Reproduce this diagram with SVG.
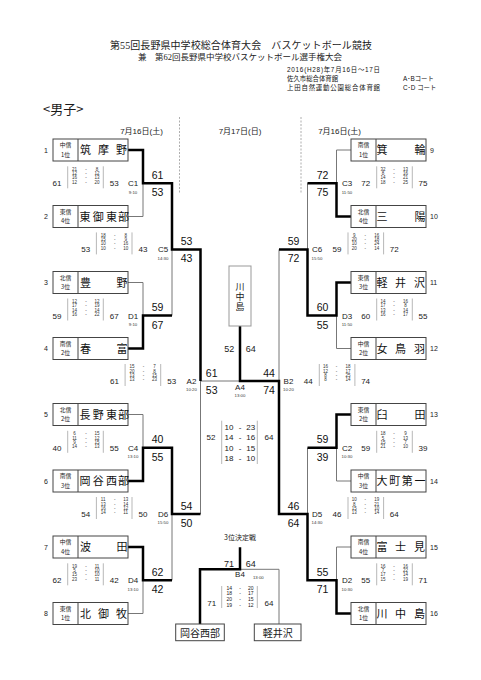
<svg xmlns="http://www.w3.org/2000/svg" width="481" height="680" viewBox="0 0 481 680">
<style>
text{font-family:"Liberation Sans","Noto Sans CJK JP",sans-serif;fill:#1a1a1a;text-anchor:middle}
.hd{font-family:"Liberation Serif","Noto Sans CJK JP",serif;text-anchor:start;fill:#222}
.sm{font-size:6.4px;text-anchor:start;fill:#111}
.box{fill:#fff;stroke:#444;stroke-width:1}
.dv{stroke:#444;stroke-width:1}
.nm{font-family:"Noto Sans CJK JP",sans-serif;font-size:11px;fill:#111}
.rg{font-family:"Noto Sans CJK JP",sans-serif;font-size:5.8px}
.no{font-size:7px}
.js{font-size:10.5px;fill:#111}
.bs{font-size:8px}
.ss{font-size:4.5px;fill:#333}
.lb{font-size:8px}
.tm{font-size:4.3px;fill:#333}
.f9{font-size:9px}
.sep{stroke:#999;stroke-width:0.7}
.th{fill:none;stroke:#000;stroke-width:2.5}
.tn{fill:none;stroke:#777;stroke-width:1}
.vc{font-family:"Noto Sans CJK JP",sans-serif;font-size:9px;writing-mode:vertical-rl;letter-spacing:1px}
</style>
<rect width="481" height="680" fill="#fff"/>

<g id="header">
<text class="hd" x="110" y="48.5" font-size="10" textLength="262">第55回長野県中学校総合体育大会　バスケットボール競技</text>
<text class="hd" x="138" y="59.5" font-size="8.5" textLength="204">兼　第62回長野県中学校バスケットボール選手権大会</text>
<text class="sm" x="287" y="71.5" textLength="93">2016(H28)年7月16日～17日</text>
<text class="sm" x="287" y="80.5">佐久市総合体育館</text>
<text class="sm" x="403" y="80.5">A･Bコート</text>
<text class="sm" x="287" y="89.7" textLength="93">上田自然運動公園総合体育館</text>
<text class="sm" x="403" y="89.7">C･D コート</text>
<text x="43" y="114" font-size="13" style="text-anchor:start;font-family:'Noto Sans CJK JP',sans-serif">&lt;男子&gt;</text>
<text x="141.5" y="133.5" font-size="8">7月16日(土)</text>
<text x="240" y="133.5" font-size="8">7月17日(日)</text>
<text x="339.5" y="133.5" font-size="8">7月16日(土)</text>
<line x1="179.5" y1="117" x2="179.5" y2="194" stroke="#999" stroke-width="0.8" stroke-dasharray="2,1.5"/>
<line x1="301" y1="117" x2="301" y2="194" stroke="#999" stroke-width="0.8" stroke-dasharray="2,1.5"/>
</g>

<g id="connectors">
<path class="tn" d="M128,216.5H143V183.25"/>
<path class="tn" d="M128,282.5H143V315.5"/>
<path class="tn" d="M172,315.5V249.4"/>
<path class="tn" d="M200.5,381V514"/>
<path class="tn" d="M200.5,381H240"/>
<path class="tn" d="M128,414.5H143V447.75"/>
<path class="tn" d="M128,613.5H143V580.25"/>
<path class="tn" d="M172,580.25V514"/>
<path class="tn" d="M351,150H336.5V183.25"/>
<path class="tn" d="M351,348.5H336.5V315.5"/>
<path class="tn" d="M307.5,183.25V249.4"/>
<path class="tn" d="M279,249.4V381"/>
<path class="tn" d="M351,481H336.5V447.75"/>
<path class="tn" d="M351,547H336.5V580.25"/>
<path class="tn" d="M307.5,447.75V514"/>
<path class="tn" d="M240,569.3H279V624"/>
<path class="th" d="M128,150H143V183.25H172V249.4H200.5V381"/>
<path class="th" d="M128,348.5H143V315.5H172"/>
<path class="th" d="M128,481H143V447.75H172V514H200.5"/>
<path class="th" d="M128,547H143V580.25H172"/>
<path class="th" d="M351,216.5H336.5V183.25H307.5"/>
<path class="th" d="M351,282.5H336.5V315.5H307.5V249.4H279"/>
<path class="th" d="M351,414.5H336.5V447.75H307.5"/>
<path class="th" d="M351,613.5H336.5V580.25H307.5V514H279V381H240V326"/>
<path class="th" d="M240,547.3V569.3H200V624"/>
</g>

<g id="team-1"><rect class="box" x="53" y="139" width="75" height="22"/><line class="dv" x1="78" y1="139" x2="78" y2="161"/><text class="rg" x="65.5" y="147.2">中信</text><text class="rg" x="65.5" y="156.5">1位</text><text class="nm" x="85.5 103.5 121.5" y="154">筑摩野</text><text class="no" x="46" y="152.5">1</text></g>
<g id="team-2"><rect class="box" x="53" y="205.5" width="75" height="22"/><line class="dv" x1="78" y1="205.5" x2="78" y2="227.5"/><text class="rg" x="65.5" y="213.7">東信</text><text class="rg" x="65.5" y="223">4位</text><text class="nm" x="85 98.2 111.5 123.5" y="220.5">東御東部</text><text class="no" x="46" y="219">2</text></g>
<g id="team-3"><rect class="box" x="53" y="271.5" width="75" height="22"/><line class="dv" x1="78" y1="271.5" x2="78" y2="293.5"/><text class="rg" x="65.5" y="279.7">北信</text><text class="rg" x="65.5" y="289">3位</text><text class="nm" x="85.5 122" y="286.5">豊野</text><text class="no" x="46" y="285">3</text></g>
<g id="team-4"><rect class="box" x="53" y="337.5" width="75" height="22"/><line class="dv" x1="78" y1="337.5" x2="78" y2="359.5"/><text class="rg" x="65.5" y="345.7">南信</text><text class="rg" x="65.5" y="355">2位</text><text class="nm" x="85.5 122" y="352.5">春富</text><text class="no" x="46" y="351">4</text></g>
<g id="team-5"><rect class="box" x="53" y="403.5" width="75" height="22"/><line class="dv" x1="78" y1="403.5" x2="78" y2="425.5"/><text class="rg" x="65.5" y="411.7">北信</text><text class="rg" x="65.5" y="421">2位</text><text class="nm" x="85 98.2 111.5 123.5" y="418.5">長野東部</text><text class="no" x="46" y="417">5</text></g>
<g id="team-6"><rect class="box" x="53" y="470" width="75" height="22"/><line class="dv" x1="78" y1="470" x2="78" y2="492"/><text class="rg" x="65.5" y="478.2">南信</text><text class="rg" x="65.5" y="487.5">3位</text><text class="nm" x="85 98.2 111.5 123.5" y="485">岡谷西部</text><text class="no" x="46" y="483.5">6</text></g>
<g id="team-7"><rect class="box" x="53" y="536" width="75" height="22"/><line class="dv" x1="78" y1="536" x2="78" y2="558"/><text class="rg" x="65.5" y="544.2">中信</text><text class="rg" x="65.5" y="553.5">4位</text><text class="nm" x="85.5 122" y="551">波田</text><text class="no" x="46" y="549.5">7</text></g>
<g id="team-8"><rect class="box" x="53" y="602.5" width="75" height="22"/><line class="dv" x1="78" y1="602.5" x2="78" y2="624.5"/><text class="rg" x="65.5" y="610.7">東信</text><text class="rg" x="65.5" y="620">1位</text><text class="nm" x="85.5 103.5 121.5" y="617.5">北御牧</text><text class="no" x="46" y="616">8</text></g>

<g id="team-9"><rect class="box" x="351" y="139" width="75" height="22"/><line class="dv" x1="376" y1="139" x2="376" y2="161"/><text class="rg" x="363.5" y="147.2">南信</text><text class="rg" x="363.5" y="156.5">1位</text><text class="nm" x="382 420" y="154">箕輪</text><text class="no" x="430" y="152.5" style="text-anchor:start">9</text></g>
<g id="team-10"><rect class="box" x="351" y="205.5" width="75" height="22"/><line class="dv" x1="376" y1="205.5" x2="376" y2="227.5"/><text class="rg" x="363.5" y="213.7">北信</text><text class="rg" x="363.5" y="223">4位</text><text class="nm" x="382 420" y="220.5">三陽</text><text class="no" x="430" y="219" style="text-anchor:start">10</text></g>
<g id="team-11"><rect class="box" x="351" y="271.5" width="75" height="22"/><line class="dv" x1="376" y1="271.5" x2="376" y2="293.5"/><text class="rg" x="363.5" y="279.7">東信</text><text class="rg" x="363.5" y="289">3位</text><text class="nm" x="382 400.5 419.5" y="286.5">軽井沢</text><text class="no" x="430" y="285" style="text-anchor:start">11</text></g>
<g id="team-12"><rect class="box" x="351" y="337.5" width="75" height="22"/><line class="dv" x1="376" y1="337.5" x2="376" y2="359.5"/><text class="rg" x="363.5" y="345.7">中信</text><text class="rg" x="363.5" y="355">2位</text><text class="nm" x="382 400.5 419.5" y="352.5">女鳥羽</text><text class="no" x="430" y="351" style="text-anchor:start">12</text></g>
<g id="team-13"><rect class="box" x="351" y="403.5" width="75" height="22"/><line class="dv" x1="376" y1="403.5" x2="376" y2="425.5"/><text class="rg" x="363.5" y="411.7">東信</text><text class="rg" x="363.5" y="421">2位</text><text class="nm" x="382 420" y="418.5">臼田</text><text class="no" x="430" y="417" style="text-anchor:start">13</text></g>
<g id="team-14"><rect class="box" x="351" y="470" width="75" height="22"/><line class="dv" x1="376" y1="470" x2="376" y2="492"/><text class="rg" x="363.5" y="478.2">中信</text><text class="rg" x="363.5" y="487.5">3位</text><text class="nm" x="382 394.7 407.3 420" y="485">大町第一</text><text class="no" x="430" y="483.5" style="text-anchor:start">14</text></g>
<g id="team-15"><rect class="box" x="351" y="536" width="75" height="22"/><line class="dv" x1="376" y1="536" x2="376" y2="558"/><text class="rg" x="363.5" y="544.2">南信</text><text class="rg" x="363.5" y="553.5">4位</text><text class="nm" x="382 400.5 419.5" y="551">富士見</text><text class="no" x="430" y="549.5" style="text-anchor:start">15</text></g>
<g id="team-16"><rect class="box" x="351" y="602.5" width="75" height="22"/><line class="dv" x1="376" y1="602.5" x2="376" y2="624.5"/><text class="rg" x="363.5" y="610.7">北信</text><text class="rg" x="363.5" y="620">1位</text><text class="nm" x="382 400.5 419.5" y="617.5">川中島</text><text class="no" x="430" y="616" style="text-anchor:start">16</text></g>

<g id="champion"><rect x="229" y="266" width="22" height="60" fill="#fff" stroke="#999" stroke-width="1"/><text class="vc" x="240" y="297">川中島</text></g>

<g id="match-C1">
<text class="bs" x="57" y="186.3">61</text><line class="sep" x1="67.7" y1="166.3" x2="67.7" y2="188.3"/>
<text class="ss" y="170.7"><tspan x="74.5">21</tspan><tspan x="86">-</tspan><tspan x="97">8</tspan></text>
<text class="ss" y="175"><tspan x="74.5">12</tspan><tspan x="86">-</tspan><tspan x="97">12</tspan></text>
<text class="ss" y="179.3"><tspan x="74.5">16</tspan><tspan x="86">-</tspan><tspan x="97">13</tspan></text>
<text class="ss" y="183.6"><tspan x="74.5">12</tspan><tspan x="86">-</tspan><tspan x="97">20</tspan></text>
<line class="sep" x1="103.3" y1="166.3" x2="103.3" y2="188.3"/><text class="bs" x="114.3" y="186.3">53</text>
<text class="lb" x="133" y="186.3">C1</text><text class="tm" x="133" y="193.6">9:10</text>
<text class="js" x="157.5" y="178.8">61</text><text class="js" x="157.5" y="196.3">53</text>
</g>
<g id="match-D1">
<text class="bs" x="57" y="318.5">59</text><line class="sep" x1="67.7" y1="298.5" x2="67.7" y2="320.5"/>
<text class="ss" y="302.9"><tspan x="74.5">12</tspan><tspan x="86">-</tspan><tspan x="97">12</tspan></text>
<text class="ss" y="307.2"><tspan x="74.5">17</tspan><tspan x="86">-</tspan><tspan x="97">19</tspan></text>
<text class="ss" y="311.5"><tspan x="74.5">14</tspan><tspan x="86">-</tspan><tspan x="97">14</tspan></text>
<text class="ss" y="315.8"><tspan x="74.5">16</tspan><tspan x="86">-</tspan><tspan x="97">22</tspan></text>
<line class="sep" x1="103.3" y1="298.5" x2="103.3" y2="320.5"/><text class="bs" x="114.3" y="318.5">67</text>
<text class="lb" x="133" y="318.5">D1</text><text class="tm" x="133" y="325.8">9:10</text>
<text class="js" x="157.5" y="311">59</text><text class="js" x="157.5" y="328.5">67</text>
</g>
<g id="match-C4">
<text class="bs" x="57" y="450.8">40</text><line class="sep" x1="67.7" y1="430.8" x2="67.7" y2="452.8"/>
<text class="ss" y="435.2"><tspan x="74.5">6</tspan><tspan x="86">-</tspan><tspan x="97">15</tspan></text>
<text class="ss" y="439.5"><tspan x="74.5">11</tspan><tspan x="86">-</tspan><tspan x="97">12</tspan></text>
<text class="ss" y="443.8"><tspan x="74.5">9</tspan><tspan x="86">-</tspan><tspan x="97">15</tspan></text>
<text class="ss" y="448.1"><tspan x="74.5">14</tspan><tspan x="86">-</tspan><tspan x="97">13</tspan></text>
<line class="sep" x1="103.3" y1="430.8" x2="103.3" y2="452.8"/><text class="bs" x="114.3" y="450.8">55</text>
<text class="lb" x="133" y="450.8">C4</text><text class="tm" x="133" y="458.1">13:10</text>
<text class="js" x="157.5" y="443.3">40</text><text class="js" x="157.5" y="460.8">55</text>
</g>
<g id="match-D4">
<text class="bs" x="57" y="583.3">62</text><line class="sep" x1="67.7" y1="563.3" x2="67.7" y2="585.3"/>
<text class="ss" y="567.7"><tspan x="74.5">19</tspan><tspan x="86">-</tspan><tspan x="97">11</tspan></text>
<text class="ss" y="572"><tspan x="74.5">5</tspan><tspan x="86">-</tspan><tspan x="97">10</tspan></text>
<text class="ss" y="576.3"><tspan x="74.5">15</tspan><tspan x="86">-</tspan><tspan x="97">10</tspan></text>
<text class="ss" y="580.6"><tspan x="74.5">23</tspan><tspan x="86">-</tspan><tspan x="97">11</tspan></text>
<line class="sep" x1="103.3" y1="563.3" x2="103.3" y2="585.3"/><text class="bs" x="114.3" y="583.3">42</text>
<text class="lb" x="133" y="583.3">D4</text><text class="tm" x="133" y="590.6">13:10</text>
<text class="js" x="157.5" y="575.8">62</text><text class="js" x="157.5" y="593.3">42</text>
</g>
<g id="match-C5">
<text class="bs" x="85.7" y="252.4">53</text><line class="sep" x1="96.4" y1="232.4" x2="96.4" y2="254.4"/>
<text class="ss" y="236.8"><tspan x="103.2">18</tspan><tspan x="114.7">-</tspan><tspan x="125.7">8</tspan></text>
<text class="ss" y="241.1"><tspan x="103.2">15</tspan><tspan x="114.7">-</tspan><tspan x="125.7">9</tspan></text>
<text class="ss" y="245.4"><tspan x="103.2">10</tspan><tspan x="114.7">-</tspan><tspan x="125.7">16</tspan></text>
<text class="ss" y="249.7"><tspan x="103.2">10</tspan><tspan x="114.7">-</tspan><tspan x="125.7">10</tspan></text>
<line class="sep" x1="132" y1="232.4" x2="132" y2="254.4"/><text class="bs" x="143" y="252.4">43</text>
<text class="lb" x="163" y="252.4">C5</text><text class="tm" x="163" y="259.7">14:30</text>
<text class="js" x="186.5" y="244.9">53</text><text class="js" x="186.5" y="262.4">43</text>
</g>
<g id="match-D6">
<text class="bs" x="85.7" y="517">54</text><line class="sep" x1="96.4" y1="497" x2="96.4" y2="519"/>
<text class="ss" y="501.4"><tspan x="103.2">11</tspan><tspan x="114.7">-</tspan><tspan x="125.7">13</tspan></text>
<text class="ss" y="505.7"><tspan x="103.2">13</tspan><tspan x="114.7">-</tspan><tspan x="125.7">14</tspan></text>
<text class="ss" y="510"><tspan x="103.2">16</tspan><tspan x="114.7">-</tspan><tspan x="125.7">12</tspan></text>
<text class="ss" y="514.3"><tspan x="103.2">14</tspan><tspan x="114.7">-</tspan><tspan x="125.7">11</tspan></text>
<line class="sep" x1="132" y1="497" x2="132" y2="519"/><text class="bs" x="143" y="517">50</text>
<text class="lb" x="163" y="517">D6</text><text class="tm" x="163" y="524.3">15:50</text>
<text class="js" x="186.5" y="509.5">54</text><text class="js" x="186.5" y="527">50</text>
</g>
<g id="match-A2">
<text class="bs" x="114.4" y="384">61</text><line class="sep" x1="125.1" y1="364" x2="125.1" y2="386"/>
<text class="ss" y="368.4"><tspan x="131.9">15</tspan><tspan x="143.4">-</tspan><tspan x="154.4">7</tspan></text>
<text class="ss" y="372.7"><tspan x="131.9">20</tspan><tspan x="143.4">-</tspan><tspan x="154.4">8</tspan></text>
<text class="ss" y="377"><tspan x="131.9">13</tspan><tspan x="143.4">-</tspan><tspan x="154.4">15</tspan></text>
<text class="ss" y="381.3"><tspan x="131.9">13</tspan><tspan x="143.4">-</tspan><tspan x="154.4">23</tspan></text>
<line class="sep" x1="160.7" y1="364" x2="160.7" y2="386"/><text class="bs" x="171.7" y="384">53</text>
<text class="lb" x="191.5" y="384">A2</text><text class="tm" x="191.5" y="391.3">10:20</text>
<text class="js" x="211.7" y="376.5">61</text><text class="js" x="211.7" y="394">53</text>
</g>

<g id="match-C3">
<text class="lb" x="347" y="186.3">C3</text><text class="tm" x="347" y="193.6">11:50</text>
<text class="bs" x="365.7" y="186.3">72</text><line class="sep" x1="376.7" y1="166.3" x2="376.7" y2="188.3"/>
<text class="ss" y="170.7"><tspan x="383">32</tspan><tspan x="394">-</tspan><tspan x="405.5">13</tspan></text>
<text class="ss" y="175"><tspan x="383">8</tspan><tspan x="394">-</tspan><tspan x="405.5">16</tspan></text>
<text class="ss" y="179.3"><tspan x="383">14</tspan><tspan x="394">-</tspan><tspan x="405.5">21</tspan></text>
<text class="ss" y="183.6"><tspan x="383">18</tspan><tspan x="394">-</tspan><tspan x="405.5">25</tspan></text>
<line class="sep" x1="412.3" y1="166.3" x2="412.3" y2="188.3"/><text class="bs" x="423" y="186.3">75</text>
<text class="js" x="322.5" y="178.8">72</text><text class="js" x="322.5" y="196.3">75</text>
</g>
<g id="match-D3">
<text class="lb" x="347" y="318.5">D3</text><text class="tm" x="347" y="325.8">11:50</text>
<text class="bs" x="365.7" y="318.5">60</text><line class="sep" x1="376.7" y1="298.5" x2="376.7" y2="320.5"/>
<text class="ss" y="302.9"><tspan x="383">14</tspan><tspan x="394">-</tspan><tspan x="405.5">16</tspan></text>
<text class="ss" y="307.2"><tspan x="383">17</tspan><tspan x="394">-</tspan><tspan x="405.5">8</tspan></text>
<text class="ss" y="311.5"><tspan x="383">13</tspan><tspan x="394">-</tspan><tspan x="405.5">14</tspan></text>
<text class="ss" y="315.8"><tspan x="383">16</tspan><tspan x="394">-</tspan><tspan x="405.5">17</tspan></text>
<line class="sep" x1="412.3" y1="298.5" x2="412.3" y2="320.5"/><text class="bs" x="423" y="318.5">55</text>
<text class="js" x="322.5" y="311">60</text><text class="js" x="322.5" y="328.5">55</text>
</g>
<g id="match-C2">
<text class="lb" x="347" y="450.8">C2</text><text class="tm" x="347" y="458.1">10:30</text>
<text class="bs" x="365.7" y="450.8">59</text><line class="sep" x1="376.7" y1="430.8" x2="376.7" y2="452.8"/>
<text class="ss" y="435.2"><tspan x="383">18</tspan><tspan x="394">-</tspan><tspan x="405.5">9</tspan></text>
<text class="ss" y="439.5"><tspan x="383">5</tspan><tspan x="394">-</tspan><tspan x="405.5">13</tspan></text>
<text class="ss" y="443.8"><tspan x="383">15</tspan><tspan x="394">-</tspan><tspan x="405.5">7</tspan></text>
<text class="ss" y="448.1"><tspan x="383">21</tspan><tspan x="394">-</tspan><tspan x="405.5">10</tspan></text>
<line class="sep" x1="412.3" y1="430.8" x2="412.3" y2="452.8"/><text class="bs" x="423" y="450.8">39</text>
<text class="js" x="322.5" y="443.3">59</text><text class="js" x="322.5" y="460.8">39</text>
</g>
<g id="match-D2">
<text class="lb" x="347" y="583.3">D2</text><text class="tm" x="347" y="590.6">10:30</text>
<text class="bs" x="365.7" y="583.3">55</text><line class="sep" x1="376.7" y1="563.3" x2="376.7" y2="585.3"/>
<text class="ss" y="567.7"><tspan x="383">16</tspan><tspan x="394">-</tspan><tspan x="405.5">16</tspan></text>
<text class="ss" y="572"><tspan x="383">7</tspan><tspan x="394">-</tspan><tspan x="405.5">22</tspan></text>
<text class="ss" y="576.3"><tspan x="383">17</tspan><tspan x="394">-</tspan><tspan x="405.5">14</tspan></text>
<text class="ss" y="580.6"><tspan x="383">15</tspan><tspan x="394">-</tspan><tspan x="405.5">19</tspan></text>
<line class="sep" x1="412.3" y1="563.3" x2="412.3" y2="585.3"/><text class="bs" x="423" y="583.3">71</text>
<text class="js" x="322.5" y="575.8">55</text><text class="js" x="322.5" y="593.3">71</text>
</g>
<g id="match-C6">
<text class="lb" x="317" y="252.4">C6</text><text class="tm" x="317" y="259.7">15:50</text>
<text class="bs" x="337" y="252.4">59</text><line class="sep" x1="348" y1="232.4" x2="348" y2="254.4"/>
<text class="ss" y="236.8"><tspan x="354.3">9</tspan><tspan x="365.3">-</tspan><tspan x="376.8">16</tspan></text>
<text class="ss" y="241.1"><tspan x="354.3">20</tspan><tspan x="365.3">-</tspan><tspan x="376.8">18</tspan></text>
<text class="ss" y="245.4"><tspan x="354.3">10</tspan><tspan x="365.3">-</tspan><tspan x="376.8">24</tspan></text>
<text class="ss" y="249.7"><tspan x="354.3">20</tspan><tspan x="365.3">-</tspan><tspan x="376.8">14</tspan></text>
<line class="sep" x1="383.6" y1="232.4" x2="383.6" y2="254.4"/><text class="bs" x="394.3" y="252.4">72</text>
<text class="js" x="293.5" y="244.9">59</text><text class="js" x="293.5" y="262.4">72</text>
</g>
<g id="match-D5">
<text class="lb" x="317" y="517">D5</text><text class="tm" x="317" y="524.3">14:30</text>
<text class="bs" x="337" y="517">46</text><line class="sep" x1="348" y1="497" x2="348" y2="519"/>
<text class="ss" y="501.4"><tspan x="354.3">10</tspan><tspan x="365.3">-</tspan><tspan x="376.8">19</tspan></text>
<text class="ss" y="505.7"><tspan x="354.3">8</tspan><tspan x="365.3">-</tspan><tspan x="376.8">21</tspan></text>
<text class="ss" y="510"><tspan x="354.3">15</tspan><tspan x="365.3">-</tspan><tspan x="376.8">10</tspan></text>
<text class="ss" y="514.3"><tspan x="354.3">13</tspan><tspan x="365.3">-</tspan><tspan x="376.8">14</tspan></text>
<line class="sep" x1="383.6" y1="497" x2="383.6" y2="519"/><text class="bs" x="394.3" y="517">64</text>
<text class="js" x="293.5" y="509.5">46</text><text class="js" x="293.5" y="527">64</text>
</g>
<g id="match-B2">
<text class="lb" x="288.5" y="384">B2</text><text class="tm" x="288.5" y="391.3">10:20</text>
<text class="bs" x="308.3" y="384">44</text><line class="sep" x1="319.3" y1="364" x2="319.3" y2="386"/>
<text class="ss" y="368.4"><tspan x="325.6">16</tspan><tspan x="336.6">-</tspan><tspan x="348.1">18</tspan></text>
<text class="ss" y="372.7"><tspan x="325.6">12</tspan><tspan x="336.6">-</tspan><tspan x="348.1">17</tspan></text>
<text class="ss" y="377"><tspan x="325.6">8</tspan><tspan x="336.6">-</tspan><tspan x="348.1">25</tspan></text>
<text class="ss" y="381.3"><tspan x="325.6">8</tspan><tspan x="336.6">-</tspan><tspan x="348.1">14</tspan></text>
<line class="sep" x1="354.9" y1="364" x2="354.9" y2="386"/><text class="bs" x="365.6" y="384">74</text>
<text class="js" x="269" y="376.5">44</text><text class="js" x="269" y="394">74</text>
</g>

<g id="match-A4">
<text class="f9" x="229.3" y="352">52</text><text class="f9" x="250.7" y="352">64</text>
<text class="lb" x="240" y="390">A4</text><text class="tm" x="240" y="397.3">13:00</text>
<text class="bs" x="211" y="439.5">52</text>
<line class="sep" x1="221.7" y1="420.7" x2="221.7" y2="464"/>
<text class="bs" y="429.5"><tspan x="229">10</tspan><tspan x="240">-</tspan><tspan x="250.7">23</tspan></text>
<text class="bs" y="440"><tspan x="229">14</tspan><tspan x="240">-</tspan><tspan x="250.7">16</tspan></text>
<text class="bs" y="450.5"><tspan x="229">10</tspan><tspan x="240">-</tspan><tspan x="250.7">15</tspan></text>
<text class="bs" y="461"><tspan x="229">18</tspan><tspan x="240">-</tspan><tspan x="250.7">10</tspan></text>
<line class="sep" x1="257.3" y1="420.7" x2="257.3" y2="464"/>
<text class="bs" x="269" y="439.5">64</text>
</g>

<g id="match-B4">
<text x="240" y="540" font-size="7" style="font-family:'Noto Sans CJK JP',sans-serif">3位決定戦</text>
<text class="f9" x="229" y="566.7">71</text><text class="f9" x="250.7" y="566.7">64</text>
<text class="lb" x="240" y="577">B4</text><text class="tm" x="258.3" y="579">13:00</text>
<text class="bs" x="211.7" y="605.5">71</text>
<line class="sep" x1="221.7" y1="586" x2="221.7" y2="608"/>
<text font-size="5" y="589.5"><tspan x="229.3">14</tspan><tspan x="240">-</tspan><tspan x="250.7">20</tspan></text>
<text font-size="5" y="595.2"><tspan x="229.3">18</tspan><tspan x="240">-</tspan><tspan x="250.7">17</tspan></text>
<text font-size="5" y="601"><tspan x="229.3">20</tspan><tspan x="240">-</tspan><tspan x="250.7">15</tspan></text>
<text font-size="5" y="606.7"><tspan x="229.3">19</tspan><tspan x="240">-</tspan><tspan x="250.7">12</tspan></text>
<line class="sep" x1="257.3" y1="586" x2="257.3" y2="608"/>
<text class="bs" x="269" y="605.5">64</text>
</g>
<g id="third-okaya"><rect class="box" x="175.7" y="624" width="48.6" height="16.7"/><text x="200" y="636.5" font-size="10" style="font-family:'Noto Sans CJK JP',sans-serif">岡谷西部</text></g>
<g id="third-karuizawa"><rect class="box" x="254.3" y="624" width="46.7" height="16.7"/><text x="277.7" y="636.5" font-size="10" style="font-family:'Noto Sans CJK JP',sans-serif">軽井沢</text></g>
</svg>
